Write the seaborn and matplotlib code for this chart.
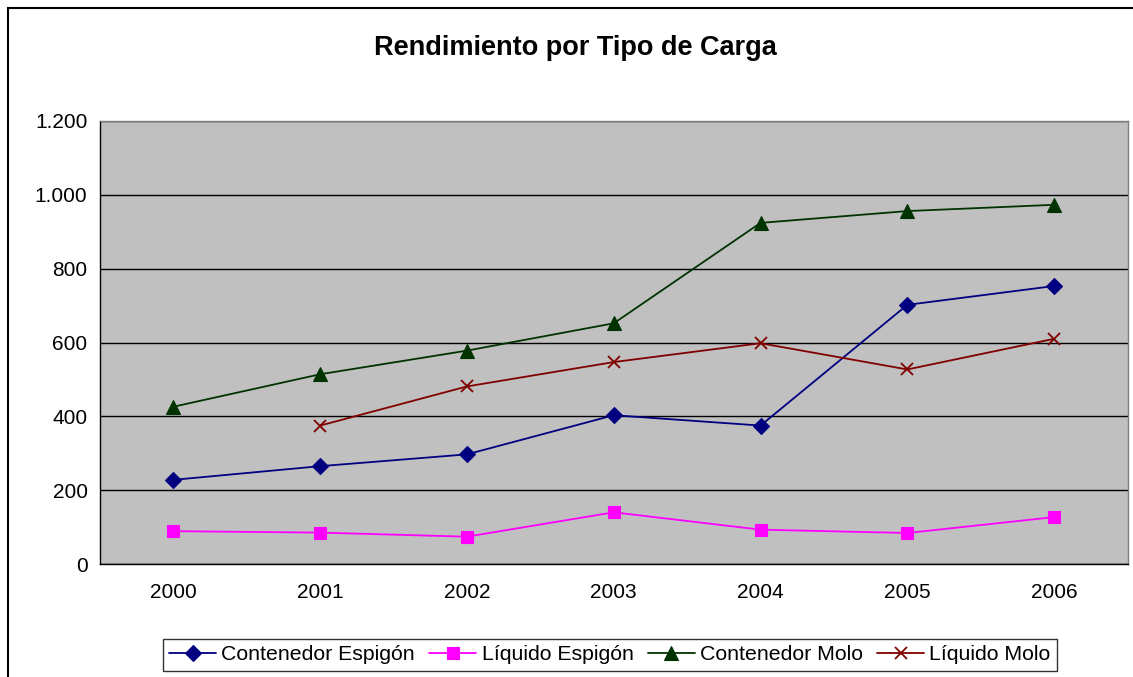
import numpy as np
import pandas as pd
import seaborn as sns
import matplotlib.pyplot as plt
from matplotlib.patches import Rectangle
from matplotlib.ticker import FuncFormatter, MultipleLocator, FixedLocator

years = ["2000", "2001", "2002", "2003", "2004", "2005", "2006"]
contenedor_espigon = [228, 265, 297, 403, 375, 702, 753]
liquido_espigon = [89, 85, 74, 140, 93, 84, 127]
contenedor_molo = [426, 514, 578, 652, 924, 956, 973]
liquido_molo = [np.nan, 375, 481, 547, 598, 527, 610]

series = [
    ("Contenedor Espigón", contenedor_espigon, "#000080", "D", 8.5),
    ("Líquido Espigón", liquido_espigon, "#FF00FF", "s", 8),
    ("Contenedor Molo", contenedor_molo, "#003300", "^", 10),
    ("Líquido Molo", liquido_molo, "#800000", "x", 9),
]

sns.set_style("white")
plt.rcParams["font.family"] = ["Liberation Sans", "DejaVu Sans"]
plt.rcParams["text.color"] = "black"
plt.rcParams["xtick.color"] = "black"
plt.rcParams["ytick.color"] = "black"

fig = plt.figure(figsize=(11.33, 6.77), dpi=100)
ax = fig.add_axes([100 / 1133, 1 - 564 / 677, 1027.5 / 1133, 443 / 677])
ax.set_facecolor("#C0C0C0")

# outer chart border
fig.patches.append(Rectangle((8 / 1133, -0.1), 1.2, 1.1 - 8 / 677, transform=fig.transFigure,
                             fill=False, edgecolor="black", linewidth=1.5, zorder=0))

xpos = np.arange(len(years))
for name, vals, color, mk, ms in series:
    df = pd.DataFrame({"x": xpos, "y": vals}).dropna()
    sns.lineplot(data=df, x="x", y="y", ax=ax, color=color, marker=mk, markersize=ms,
                 markeredgecolor=color, markeredgewidth=1.3 if mk == "x" else 0.8,
                 linewidth=1.3, label=name)

ax.set_xlim(-0.5, 6.5)
ax.set_ylim(0, 1200)
ax.yaxis.set_major_locator(MultipleLocator(200))
ax.yaxis.set_major_formatter(FuncFormatter(lambda v, p: f"{int(v):,}".replace(",", ".")))
ax.set_xticks(xpos)
ax.set_xticklabels(years)
ax.xaxis.set_minor_locator(FixedLocator(np.arange(-0.5, 7, 1)))
ax.tick_params(axis="x", which="major", length=0, pad=14, labelsize=15)
ax.tick_params(axis="x", which="minor", length=6, width=1, color="black", direction="out")
ax.tick_params(axis="y", length=6, width=1, color="black", direction="out", labelsize=15, pad=3)
ax.grid(axis="y", color="black", linewidth=1)
ax.set_axisbelow(True)
for s in ax.spines.values():
    s.set_color("#808080")
    s.set_linewidth(1)
ax.spines["left"].set_color("black")
ax.spines["bottom"].set_color("black")
ax.set_xlabel("")
ax.set_ylabel("")

fig.text(575 / 1133, 1 - 48 / 677, "Rendimiento por Tipo de Carga", ha="center", va="center",
         fontsize=19.5, fontweight="bold", color="black")

leg = ax.legend(loc="center", bbox_to_anchor=(610 / 1133, 1 - 655 / 677), bbox_transform=fig.transFigure,
                ncol=4, frameon=True, fancybox=False, fontsize=15.3, handlelength=2.2,
                handletextpad=0.25, columnspacing=0.68, borderpad=0.3, edgecolor="black")
leg.get_frame().set_linewidth(1)
for t in leg.get_texts():
    t.set_color("black")

fig.savefig("out.png", dpi=100, facecolor="white")
